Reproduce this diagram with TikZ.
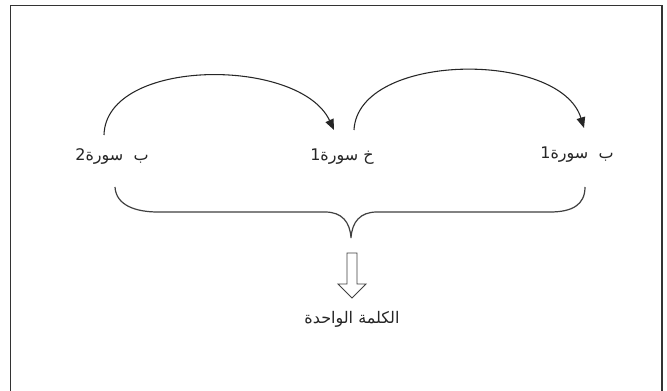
\documentclass[tikz,border=0pt]{standalone}
\usepackage{fontspec}
\usetikzlibrary{arrows.meta}
\TeXXeTstate=1
\newfontfamily\arabicfont[Script=Arabic]{DejaVu Sans}
\tikzset{
  lbl/.style={font=\arabicfont\fontsize{12}{14}\selectfont, inner sep=1pt, text=black!85},
  arcarrow/.style={draw=black!85, line width=0.8pt, -{Triangle[length=8pt,width=6.5pt]}},
  bracepath/.style={draw=black!75, line width=0.9pt},
  hollow/.style={draw=black!75, line width=0.7pt, fill=white}
}
\begin{document}
\begin{tikzpicture}[x=0.75pt,y=-0.75pt]
\clip (0,0) rectangle (667,391);
\fill[white] (0,0) rectangle (667,391);
\draw[black!80, line width=0.8pt] (10.5,5.5) rectangle (662,430);
% texts
\node[lbl] (t2) at (112,157) {\beginR ب\ \ سورة2\endR};
\node[lbl] (t1b) at (342,157) {\beginR خ سورة1\endR};
\node[lbl] (t1a) at (577,155) {\beginR ب\ \ سورة1\endR};
\node[lbl] (word) at (352,319) {\beginR الكلمة الواحدة\endR};
% arrow anchors
\coordinate (s1) at (104,135);
\coordinate (e1) at (334,130);
\coordinate (s2) at (354,130);
\coordinate (e2) at (584,128);
\draw[arcarrow] (s1) .. controls (106,57) and (300,57) .. (e1);
\draw[arcarrow] (s2) .. controls (358,52) and (560,50) .. (e2);
% brace
\coordinate (bl) at (115,187);
\coordinate (br) at (585,187);
\coordinate (btip) at (351,238);
\draw[bracepath] (bl) .. controls (116,205) and (135,212) .. (158,212)
  -- (325,212) .. controls (342,212) and (350,222) .. (btip)
  .. controls (352,222) and (360,212) .. (377,212)
  -- (550,212) .. controls (572,212) and (585,205) .. (br);
% hollow arrow
\draw[hollow] (347,253) -- (357,253) -- (357,284) -- (366,284) -- (352,298)
  -- (338,284) -- (347,284) -- cycle;
\end{tikzpicture}
\end{document}
